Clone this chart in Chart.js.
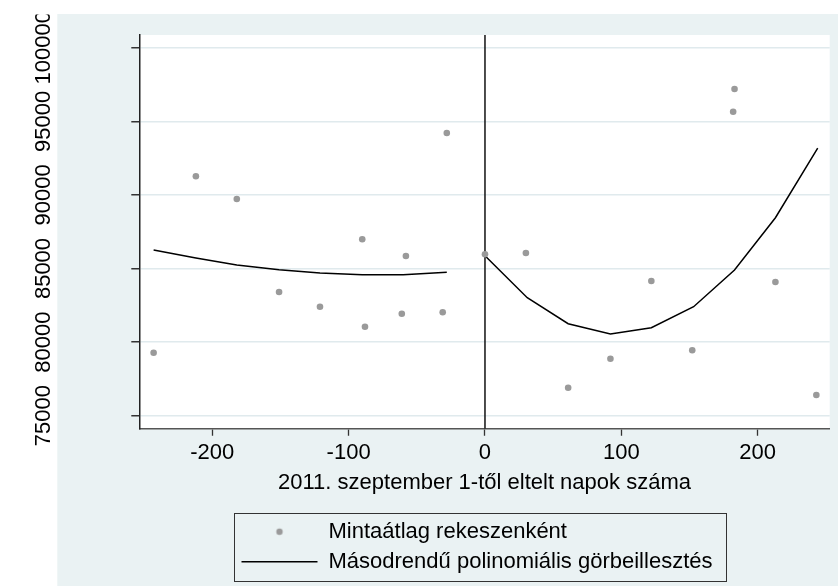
<!DOCTYPE html>
<html><head><meta charset="utf-8">
<script src="https://cdn.jsdelivr.net/npm/chart.js@4/dist/chart.umd.min.js"></script>
<style>html,body{margin:0;padding:0;background:#fff}canvas{display:block}</style>
</head><body>
<canvas id="c" width="838" height="586"></canvas>
<script>
// ---- data ----
const binDays  = [-243, -212, -182, -151, -121, -90, -88, -61, -58, -31, -28, 0, 30, 61, 92, 122, 152, 182, 183, 213, 243];
const binMeans = [79280, 91263, 89721, 83403, 82404, 86983, 81046, 81929, 85849, 82024, 94204, 85964,
                  86052, 76902, 78872, 84150, 79443, 95651, 97193, 84082, 76406];
const fitLeftDays    = [-243, -212, -182, -151, -121, -90, -60, -28];
const fitLeftValues  = [86256, 85713, 85237, 84918, 84694, 84578, 84578, 84741];
const fitRightDays   = [0, 31, 61, 92, 122, 153, 183, 213, 244];
const fitRightValues = [85869, 83016, 81250, 80550, 80978, 82404, 84897, 88450, 93185];
const cutoffDay = [0];
const xTickValues = [-200, -100, 0, 100, 200];
const yTickValues = [75000, 80000, 85000, 90000, 95000, 100000];
const xRange = [-253.5, 252.8];
const yRange = [74117, 100863];
const xTitle = '2011. szeptember 1-től eltelt napok száma';
const legendLabels = ['Mintaátlag rekeszenként', 'Másodrendű polinomiális görbeillesztés'];

// ---- chart ----
const toXY = (xs, ys) => xs.map((x, i) => ({x: x, y: ys[i]}));
const FONT = "'Liberation Sans', Arial, Helvetica, sans-serif";
Chart.defaults.font.family = FONT;
Chart.defaults.font.size = 22;
Chart.defaults.color = '#000';

const POINT_COLOR = '#9a9a9a';
const dot = document.createElement('canvas');
dot.width = 10; dot.height = 10;
(function(){ const d = dot.getContext('2d'); d.fillStyle = POINT_COLOR; d.beginPath(); d.arc(5, 5, 3.2, 0, Math.PI * 2); d.fill(); })();

const framePlugin = {
  id: 'frame',
  afterLayout(chart) {
    const lg = chart.legend;
    lg.left = 233.5; lg.width = 492; lg.right = lg.left + lg.width;
    lg.height = 68; lg.bottom = lg.top + lg.height;
  },
  beforeDraw(chart) {
    const ctx = chart.ctx, a = chart.chartArea;
    ctx.save();
    ctx.fillStyle = '#ffffff'; ctx.fillRect(0, 0, chart.width, chart.height);
    ctx.fillStyle = '#eaf2f3'; ctx.fillRect(57.3, 14, chart.width - 57.3, chart.height - 14);
    ctx.fillStyle = '#ffffff'; ctx.fillRect(a.left, a.top, a.right - a.left, a.bottom - a.top);
    ctx.restore();
    ctx.save();
    ctx.beginPath(); ctx.rect(0, 14.5, chart.width, chart.height); ctx.clip();
  },
  afterDraw(chart) {
    const ctx = chart.ctx;
    ctx.restore();
    const lg = chart.legend;
    ctx.save();
    ctx.strokeStyle = '#333'; ctx.lineWidth = 1;
    ctx.strokeRect(Math.round(lg.left) + 0.5, Math.round(lg.top) + 0.5, Math.round(lg.width), Math.round(lg.height));
    ctx.restore();
  }
};

new Chart(document.getElementById('c'), {
  type: 'scatter',
  data: {
    datasets: [
      { type: 'scatter', label: legendLabels[0], data: toXY(binDays, binMeans),
        pointRadius: 3.3, pointHoverRadius: 3.3, pointBackgroundColor: POINT_COLOR, pointBorderWidth: 0, borderColor: POINT_COLOR },
      { type: 'line', label: legendLabels[1], data: toXY(fitLeftDays, fitLeftValues),
        borderColor: '#000', borderWidth: 1.5, pointRadius: 0, fill: false, tension: 0 },
      { type: 'line', label: 'fit-right', data: toXY(fitRightDays, fitRightValues),
        borderColor: '#000', borderWidth: 1.5, pointRadius: 0, fill: false, tension: 0 },
      { type: 'line', label: 'cutoff', data: [{x: cutoffDay[0], y: yRange[0]}, {x: cutoffDay[0], y: yRange[1]}],
        borderColor: '#111', borderWidth: 1.5, pointRadius: 0, fill: false }
    ]
  },
  options: {
    responsive: false,
    animation: false,
    devicePixelRatio: 1,
    layout: { padding: { top: 35, right: 8.3, bottom: 3.3, left: 0 } },
    plugins: {
      tooltip: { enabled: false },
      legend: {
        position: 'bottom', fullSize: false, align: 'start',
        labels: {
          usePointStyle: true, pointStyleWidth: 76, boxHeight: 22, padding: 8,
          font: { size: 22 }, color: '#000',
          generateLabels(chart) {
            const items = Chart.defaults.plugins.legend.labels.generateLabels(chart).filter(it => it.datasetIndex < 2);
            items[0].pointStyle = dot; items[0].lineWidth = 0;
            items[1].pointStyle = 'line'; items[1].strokeStyle = '#000'; items[1].lineWidth = 1.5;
            return items;
          }
        }
      }
    },
    scales: {
      x: {
        type: 'linear', min: xRange[0], max: xRange[1],
        afterBuildTicks: s => { s.ticks = xTickValues.map(v => ({value: v})); },
        afterFit: s => { s.height = 84; s.paddingLeft = 0; s.paddingRight = 0; },
        ticks: { callback: v => String(v), padding: 4, minRotation: 0, maxRotation: 0, autoSkip: false, font: { size: 22 }, color: '#000' },
        grid: { drawOnChartArea: false, drawTicks: true, tickLength: 7, tickColor: '#333', tickWidth: 1.3 },
        border: { display: true, color: '#555', width: 1.5 },
        title: { display: true, text: xTitle, font: { size: 22 }, color: '#000', padding: { top: 0, bottom: 16.6 } }
      },
      y: {
        type: 'linear', min: yRange[0], max: yRange[1],
        afterBuildTicks: s => { s.ticks = yTickValues.map(v => ({value: v})); },
        afterFit: s => { s.width = 139.3; s.paddingTop = 0; s.paddingBottom = 0; },
        ticks: { callback: v => String(v), padding: 51, minRotation: 90, maxRotation: 90, crossAlign: 'center', autoSkip: false, font: { size: 22 }, color: '#000' },
        grid: { color: '#e0eaed', lineWidth: 1.5, drawTicks: true, tickLength: 8, tickColor: '#333', tickWidth: 1.3 },
        border: { display: true, color: '#222', width: 1.5 }
      }
    }
  },
  plugins: [framePlugin]
});
</script>
</body></html>
